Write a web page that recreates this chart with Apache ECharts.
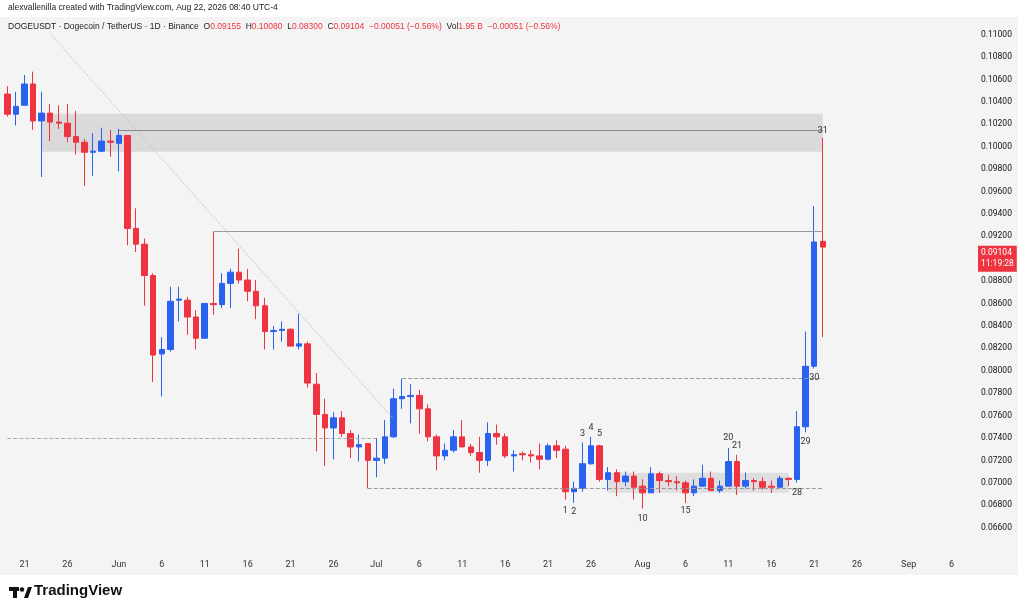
<!DOCTYPE html>
<html><head><meta charset="utf-8">
<script src="https://cdn.jsdelivr.net/npm/echarts@6/dist/echarts.min.js"></script>
<style>html,body{margin:0;padding:0;background:#fff}#c{width:1024px;height:612px}</style>
</head><body><div id="c"></div>
<script>
// categories: daily dates May 19 .. Sep 8
const months = ['Jan','Feb','Mar','Apr','May','Jun','Jul','Aug','Sep','Oct','Nov','Dec'];
const categories = [];
{ const d = new Date(2026, 4, 19); const end = new Date(2026, 8, 8);
  while (d <= end) { categories.push((d.getMonth()+1) + '-' + d.getDate()); d.setDate(d.getDate()+1); } }
const tickDays = [1, 6, 11, 16, 21, 26];

const opens = [.1047,.1029,.1037,.1056,.1023,.1030,.1022,.1021,.1009,.1004,.0995,.0996,.1005,.1003,.1010,.0927,.0913,.0885,.0815,.0819,.0863,.0863,.0848,.0829,.0860,.0859,.0878,.0888,.0881,.0871,.0858,.0835,.0836,.0837,.0822,.0824,.0788,.0761,.0749,.0758,.0744,.0732,.0735,.0720,.0722,.0741,.0775,.0777,.0778,.0766,.0741,.0724,.0729,.0741,.0732,.0727,.0720,.0744,.0741,.0724,.0726,.0725,.0724,.0721,.0733,.0730,.0692,.0695,.0717,.0733,.0703,.0709,.0701,.0706,.0697,.0691,.0708,.0702,.0701,.0700,.0691,.0697,.0704,.0693,.0697,.0719,.0697,.0702,.0701,.0697,.0696,.0704,.0703,.0750,.0804,.09155];
const closes = [.1029,.1036,.1056,.1023,.1030,.1022,.1021,.1009,.1004,.0995,.0996,.1005,.1004,.1010,.0927,.0913,.0885,.0814,.0819,.0862,.0864,.0848,.0829,.0860,.0859,.0878,.0888,.0881,.0871,.0858,.0835,.0836,.0837,.0822,.0824,.0789,.0761,.0749,.0758,.0744,.0732,.0734,.0720,.0722,.0741,.0775,.0777,.0778,.0766,.0741,.0724,.0729,.0741,.0732,.0727,.0720,.0744,.0741,.0724,.0725,.0725,.0724,.0721,.0733,.0729,.0692,.0695,.0717,.0733,.0703,.0709,.0701,.0706,.0696,.0691,.0708,.0702,.0701,.0700,.0691,.0697,.0704,.0693,.0697,.0719,.0697,.0702,.0701,.0696,.0696,.0704,.0703,.0750,.0804,.0915,.09104];
const highs = [.1054,.1049,.1064,.1067,.1049,.1038,.1037,.1038,.1032,.1007,.1012,.1017,.1015,.1016,.1010,.0945,.0918,.0887,.0830,.0875,.0875,.0866,.0854,.0860,.0924,.0887,.0891,.0909,.0891,.0881,.0865,.0840,.0844,.0838,.0851,.0826,.0798,.0775,.0763,.0764,.0747,.0743,.0735,.0740,.0756,.0784,.0793,.0788,.0783,.0770,.0743,.0735,.0747,.0756,.0735,.0741,.0754,.0752,.0744,.0729,.0728,.0729,.0735,.0735,.0738,.0733,.0701,.0736,.0741,.0734,.0714,.0712,.0710,.0710,.0703,.0714,.0710,.0707,.0706,.0702,.0703,.0716,.0710,.0702,.0731,.0725,.0709,.0704,.0705,.0702,.0706,.0705,.0764,.0835,.0947,.1008];
const lows = [.1027,.1019,.1037,.1015,.0973,.1005,.1016,.1004,.0993,.0965,.0974,.0995,.0991,.0978,.0912,.0906,.0858,.0790,.0777,.0817,.0844,.0832,.0819,.0829,.0850,.0856,.0856,.0878,.0862,.0846,.0819,.0819,.0826,.0822,.0819,.0785,.0728,.0715,.0721,.0741,.0722,.0719,.0695,.0705,.0717,.0740,.0766,.0753,.0744,.0737,.0711,.0720,.0727,.0732,.0724,.0709,.0715,.0734,.0722,.0710,.0720,.0718,.0712,.0720,.0722,.0685,.0682,.0692,.0716,.0701,.0693,.0688,.0697,.0685,.0677,.0691,.0691,.0697,.0693,.0682,.0688,.0697,.0693,.0691,.0697,.0689,.0695,.0693,.0694,.0691,.0696,.0697,.0700,.0745,.0802,.0830];

// count labels: [category, price, text]
const countLabels = [
 ['7-23',.0675,'1'],['7-24',.0674,'2'],['7-25',.0744,'3'],['7-26',.0749,'4'],['7-27',.0744,'5'],
 ['8-1',.0668,'10'],['8-6',.0675,'15'],['8-11',.0740,'20'],['8-12',.0733,'21'],
 ['8-19',.0691,'28'],['8-20',.0737,'29'],['8-21',.0794,'30'],['8-22',.1014,'31']
];
const lastPrice = 0.09104, countdown = '11:19:28';

const candles = opens.map((o,i)=>[o, closes[i], lows[i], highs[i]]);
const UP = '#2a62f0', DN = '#ee3440';

const chart = echarts.init(document.getElementById('c'));
const cat = i => categories[i];
chart.setOption({
  animation:false,
  backgroundColor:'#ffffff',
  textStyle:{fontFamily:'Roboto, "Noto Sans", sans-serif'},
  grid:{left:3, right:51, top:19, bottom:62, show:false},
  xAxis:{type:'category', data:categories, boundaryGap:true,
    axisLine:{show:false}, axisTick:{show:false}, splitLine:{show:false},
    axisLabel:{color:'#333', fontSize:9, margin:10,
      interval:(i,v)=>tickDays.includes(+v.split('-')[1]),
      formatter:v=>{const [m,d]=v.split('-'); return d==='1'?months[m-1]:d;}}},
  yAxis:{type:'value', position:'right', min:0.064, max:0.1114, interval:0.002, scale:true,
    axisLine:{show:false}, axisTick:{show:false}, splitLine:{show:false},
    axisLabel:{color:'#111', fontSize:8.5, margin:8, showMinLabel:false, showMaxLabel:false,
      formatter:v=>v.toFixed(5)}},
  series:[{
    type:'candlestick', data:candles, barWidth:6,
    itemStyle:{color:UP, color0:DN, borderColor:UP, borderColor0:DN, borderWidth:1},
    markArea:{silent:true, data:[
      [{coord:[cat(4),.10295], itemStyle:{color:'rgba(200,200,200,0.6)'}},{coord:[cat(95),.09955]}],
      [{coord:[cat(70),.0709], itemStyle:{color:'rgba(200,200,200,0.5)'}},{coord:[cat(91),.0691]}]
    ]},
    markLine:{silent:true, symbol:'none', label:{show:false}, data:[
      [{coord:[cat(13),.10143], lineStyle:{color:'#8a8a8a', type:'solid', width:1}},{coord:[cat(95),.10143]}],
      [{coord:[cat(24),.09241], lineStyle:{color:'#9a9a9a', type:'solid', width:1}},{coord:[cat(95),.09241]}],
      [{coord:[cat(46),.0793], lineStyle:{color:'#999', type:'dashed', width:1}},{coord:[cat(95),.0793]}],
      [{coord:[cat(42),.06955], lineStyle:{color:'#999', type:'dashed', width:1}},{coord:[cat(95),.06955]}],
      [{coord:[cat(0),.0740], lineStyle:{color:'#aaa', type:'dashed', width:1}},{coord:[cat(43),.0740]}],
      [{coord:[cat(5),.1101], lineStyle:{color:'#bbb', type:'dotted', width:1}},{coord:[cat(45),.0757]}],
      {yAxis:lastPrice, lineStyle:{color:'rgba(0,0,0,0)', width:1},
        label:{show:true, position:'end', distance:5, formatter:lastPrice.toFixed(5)+'\n'+countdown, color:'#fff',
          backgroundColor:'#ee3440', padding:[2,3], fontSize:8.5, lineHeight:11}}
    ]},
    markPoint:{silent:true, symbol:'circle', symbolSize:0,
      data:countLabels.map(l=>({coord:[l[0],l[1]], value:l[2],
        label:{show:true, formatter:l[2], color:'#333', fontSize:9, position:'inside'}}))}
  }],
  graphic:[
    {type:'rect', z:-10, silent:true, shape:{x:0, y:17, width:1018, height:558}, style:{fill:'#f4f4f4'}},
    {type:'text', left:8, top:3, style:{text:'alexvallenilla created with TradingView.com, Aug 22, 2026 08:40 UTC-4', fill:'#222', fontSize:8.5}},
    {type:'text', left:8, top:22, style:{
      text:'DOGEUSDT · Dogecoin / TetherUS · 1D · Binance  O{r|0.09155}  H{r|0.10080}  L{r|0.08300}  C{r|0.09104}  {r|−0.00051 (−0.56%)}  Vol{r|1.95 B}  {r|−0.00051 (−0.56%)}',
      fill:'#222', fontSize:8.5, rich:{r:{fill:'#ee3440', fontSize:8.5}}}},
    {type:'text', left:34, top:583, style:{text:'TradingView', fill:'#111', fontSize:15, fontWeight:'bold'}},
    {type:'rect', shape:{x:9, y:587, width:10, height:4}, style:{fill:'#111'}},
    {type:'rect', shape:{x:13, y:587, width:4, height:11}, style:{fill:'#111'}},
    {type:'circle', shape:{cx:22, cy:589.5, r:2.3}, style:{fill:'#111'}},
    {type:'polygon', shape:{points:[[24,598],[28,587],[32,587],[28,598]]}, style:{fill:'#111'}}
  ]
});
</script></body></html>
